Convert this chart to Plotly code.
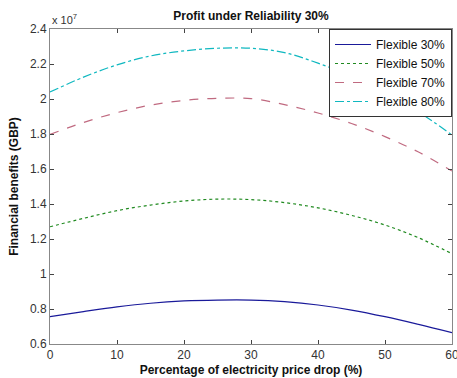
import plotly.graph_objects as go

x_pct = [0, 5, 10, 15, 20, 25, 30, 35, 40, 45, 50, 55, 60]
flex30 = [0.756, 0.785, 0.812, 0.833, 0.846, 0.851, 0.851, 0.842, 0.823, 0.794, 0.756, 0.712, 0.665]
flex50 = [1.270, 1.318, 1.362, 1.394, 1.417, 1.428, 1.425, 1.408, 1.378, 1.335, 1.280, 1.207, 1.116]
flex70 = [1.798, 1.866, 1.922, 1.965, 1.992, 2.004, 2.002, 1.968, 1.920, 1.860, 1.785, 1.697, 1.588]
flex80 = [2.040, 2.125, 2.195, 2.246, 2.275, 2.290, 2.290, 2.265, 2.205, 2.130, 2.040, 1.927, 1.794]
names = ["Flexible 30%", "Flexible 50%", "Flexible 70%", "Flexible 80%"]
x_ticks = [0, 10, 20, 30, 40, 50, 60]
y_ticks = [0.6, 0.8, 1.0, 1.2, 1.4, 1.6, 1.8, 2.0, 2.2, 2.4]
y_tick_text = ["0.6", "0.8", "1", "1.2", "1.4", "1.6", "1.8", "2", "2.2", "2.4"]

colors = ["#1a1a9a", "#208a20", "#c06a80", "#10b8c0"]
dashes = ["solid", "dot", "dash", "dashdot"]

fig = go.Figure()
for name, ys, c, d in zip(names, [flex30, flex50, flex70, flex80], colors, dashes):
    fig.add_trace(go.Scatter(x=x_pct, y=ys, mode="lines", name=name,
                             line=dict(color=c, dash=d, width=1.2, shape="spline", smoothing=1.0)))

font = "Liberation Sans, Arial, sans-serif"
fig.update_layout(
    width=457, height=378,
    margin=dict(l=50, r=5, t=29, b=34),
    paper_bgcolor="white", plot_bgcolor="white",
    font=dict(family=font, size=12, color="#222222"),
    title=dict(text="<b>Profit under Reliability 30%</b>", x=251/457, xanchor="center",
               y=1 - 16/378, yanchor="middle", font=dict(size=12, color="#111111")),
    showlegend=True,
    legend=dict(x=1, xanchor="right", y=1, yanchor="top", bgcolor="white",
                bordercolor="#333333", borderwidth=1, font=dict(size=12, color="#111111"),
                tracegroupgap=0, itemwidth=36),
    xaxis=dict(range=[0, 60], tickvals=x_ticks, ticks="inside", ticklen=4, tickcolor="#444444",
               showline=True, linecolor="#888888", linewidth=1, mirror="ticks", showgrid=False,
               zeroline=False, tickfont=dict(size=12, color="#333333"), ticklabeloverflow="allow",
               automargin=False,
               title=dict(text="<b>Percentage of electricity price drop (%)</b>", standoff=4,
                          font=dict(size=12, color="#111111"))),
    yaxis=dict(range=[0.6, 2.4], tickvals=y_ticks, ticktext=y_tick_text, ticks="inside", ticklen=4,
               tickcolor="#444444", showline=True, linecolor="#888888", linewidth=1, mirror="ticks",
               showgrid=False, zeroline=False, tickfont=dict(size=12, color="#333333"),
               automargin=False,
               title=dict(text="<b>Financial benefits (GBP)</b>", standoff=8,
                          font=dict(size=12, color="#111111"))),
)
fig.add_annotation(text="x 10<sup>7</sup>", xref="paper", yref="paper", x=0, y=1,
                   xanchor="left", yanchor="bottom", yshift=1, showarrow=False,
                   font=dict(size=11, color="#333333"))
fig.write_html("out.html", config={"displayModeBar": False},
               post_script="document.body.style.margin='0';document.body.style.overflow='hidden';")
